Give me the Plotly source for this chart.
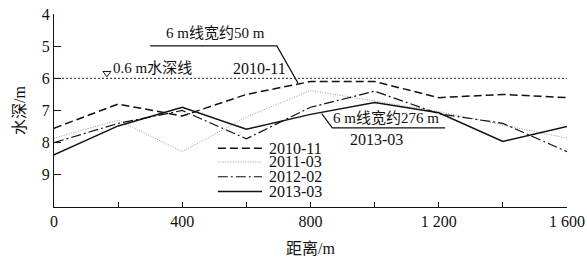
import plotly.graph_objects as go

distance = [0, 200, 400, 600, 800, 1000, 1200, 1400, 1600]
depth_2010_11 = [7.55, 6.8, 7.17, 6.5, 6.1, 6.1, 6.6, 6.5, 6.6]
depth_2011_03 = [7.86, 7.3, 8.28, 7.2, 6.38, 6.7, 7.03, 7.45, 7.86]
depth_2012_02 = [8.0, 7.4, 7.0, 7.88, 6.9, 6.4, 7.1, 7.4, 8.28]
depth_2013_03 = [8.38, 7.48, 6.9, 7.58, 7.12, 6.75, 7.07, 7.96, 7.5]
series_names = ["2010-11", "2011-03", "2012-02", "2013-03"]

x_tickvals = [0, 400, 800, 1200, 1600]
x_ticktext = ["0", "400", "800", "1 200", "1 600"]
x_minor = [200, 600, 1000, 1400]
y_tickvals = [4, 5, 6, 7, 8, 9]

FONT = "Liberation Serif"
CJK = "Liberation Serif, Noto Sans CJK SC"
fig = go.Figure()

styles = [
    dict(color="#111", width=1.5, dash="8px,4px"),
    dict(color="#999", width=1, dash="1px,1.5px"),
    dict(color="#111", width=1.2, dash="10px,3px,2px,3px"),
    dict(color="#111", width=1.5, dash="solid"),
]
series = [depth_2010_11, depth_2011_03, depth_2012_02, depth_2013_03]
for name, ys, st in zip(series_names, series, styles):
    fig.add_trace(go.Scatter(x=distance, y=ys, mode="lines", name=name, line=st, showlegend=False))

# hand-made compact legend (positions in data coords of the axes)
leg_x0, leg_x1, leg_tx = 511, 649, 664
leg_rows = [8.17, 8.6, 9.06, 9.52]
for name, st, ly in zip(series_names, styles, leg_rows):
    fig.add_shape(type="line", xref="x", yref="y", x0=leg_x0, x1=leg_x1, y0=ly, y1=ly,
                  line=st)
    fig.add_annotation(x=leg_tx, y=ly, text=name, showarrow=False, xanchor="left",
                       font=dict(family=FONT, size=16, color="#111"))

# 6 m reference line
fig.add_shape(type="line", xref="x", yref="y", x0=0, x1=1600, y0=6, y1=6,
              line=dict(color="#222", width=1, dash="2px,2px"))
# water-level triangle
fig.add_trace(go.Scatter(x=[165], y=[5.84], mode="markers", showlegend=False,
                         marker=dict(symbol="triangle-down-open", size=7, color="#111", line=dict(width=1))))

fig.add_annotation(x=178, y=5.68, text="0.6 m水深线", showarrow=False, xanchor="left",
                   font=dict(family=CJK, size=15, color="#111"))
fig.add_annotation(x=640, y=5.68, text="2010-11", showarrow=False,
                   font=dict(family=FONT, size=16, color="#111"))
fig.add_annotation(x=505, y=4.6, text="6 m线宽约50 m", showarrow=False,
                   font=dict(family=CJK, size=15, color="#111"))
fig.add_shape(type="path", xref="x", yref="y",
              path="M 300 4.99 L 695 4.99 L 761 6.15",
              line=dict(color="#111", width=1.2))
fig.add_annotation(x=1036, y=7.23, text="6 m线宽约276 m", showarrow=False,
                   font=dict(family=CJK, size=15, color="#111"))
fig.add_shape(type="path", xref="x", yref="y",
              path="M 835 7.1 L 868 7.54 L 1220 7.54",
              line=dict(color="#111", width=1.2))
fig.add_annotation(x=1005, y=7.91, text="2013-03", showarrow=False,
                   font=dict(family=FONT, size=16, color="#111"))

fig.update_layout(
    width=587, height=266,
    margin=dict(l=54, r=20, t=14, b=59),
    paper_bgcolor="white", plot_bgcolor="white",
    font=dict(family=FONT, size=15, color="#111"),
    showlegend=False,
    xaxis=dict(range=[0, 1600], tickvals=x_tickvals, ticktext=x_ticktext, automargin=False,
               ticks="inside", ticklen=5, tickcolor="#111", showline=True, linecolor="#111",
               linewidth=1.2, showgrid=False, zeroline=False, ticklabeloverflow="allow",
               tickfont=dict(family=FONT, size=16),
               minor=dict(tickvals=x_minor, ticks="inside", ticklen=5, tickcolor="#111"),
               title=dict(text="距离/m", font=dict(family=CJK, size=16), standoff=13)),
    yaxis=dict(range=[10, 4], tickvals=y_tickvals, ticks="inside", ticklen=7, tickcolor="#111",
               showline=True, linecolor="#111", linewidth=1.2, showgrid=False, zeroline=False,
               automargin=False, tickfont=dict(family=FONT, size=16), ticklabeloverflow="allow",
               title=dict(text="水深/m", font=dict(family=CJK, size=16), standoff=12)),
)

# remove the page's default body margin so the figure sits at the window's corner
fig.write_html("out.html", config={"displayModeBar": False},
               post_script="document.body.style.margin='0px';")
